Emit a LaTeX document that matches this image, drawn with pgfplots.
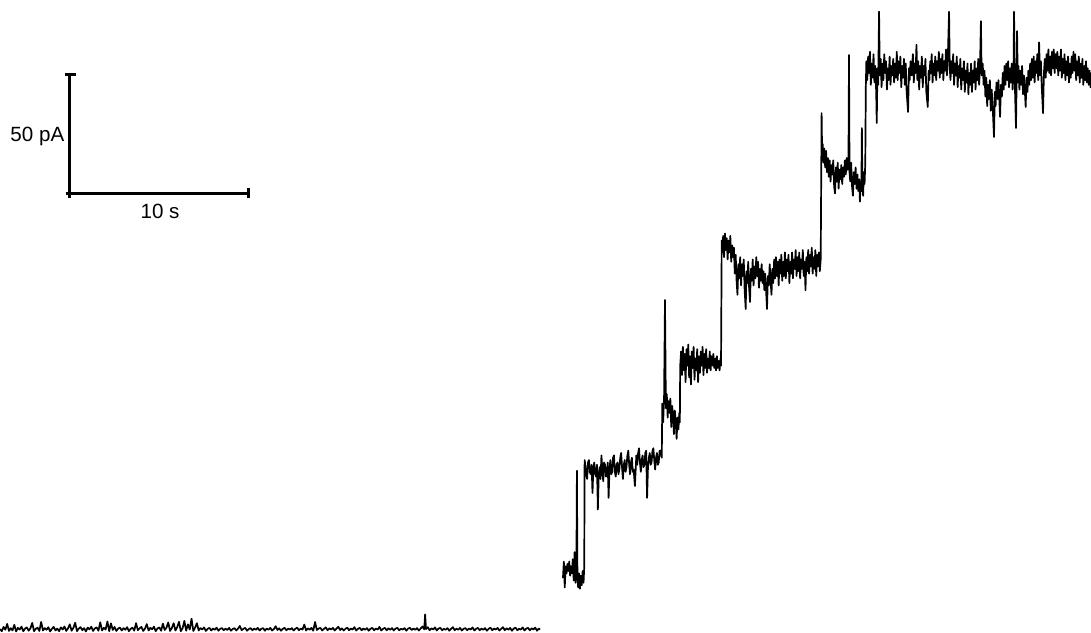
\documentclass[border=0pt]{standalone}
\usepackage{pgfplots}
\pgfplotsset{compat=1.18}
\usepackage{fontspec}
\setmainfont{Liberation Sans}
\begin{document}
\begin{tikzpicture}
\begin{axis}[
  width=545.5pt, height=316.5pt, scale only axis,
  xmin=0, xmax=60.95, ymin=-1.27, ymax=266.95,
  axis line style={draw=none}, ticks=none,
  clip=true,
]
% baseline (before application)
\addplot[black, line width=0.85pt, line join=round] coordinates {
(0,0.4)(0.1,-0.5)(0.2,1.3)(0.3,0.1)(0.4,2.6)(0.5,-0.4)(0.6,0.8)(0.7,-0.2)(0.8,2.2)(0.9,-0.6)(1.0,0.9)(1.1,0.2)(1.2,1.4)(1.3,-0.5)(1.4,0.6)(1.5,1.1)(1.6,-0.3)(1.7,0.7)(1.8,3.0)(1.9,-0.5)(2.0,0.5)(2.1,1.0)(2.2,-0.4)(2.3,3.4)(2.4,-0.2)(2.5,0.8)(2.6,0.1)(2.7,1.2)(2.8,-0.6)(2.9,0.5)(3.0,1.3)(3.1,-0.2)(3.2,0.6)(3.3,-0.5)(3.4,1.1)(3.5,0.2)(3.6,1.5)(3.7,-0.4)(3.8,0.7)(3.9,2.4)(4.0,-0.3)(4.1,0.9)(4.2,3.1)(4.3,-0.5)(4.4,0.6)(4.5,1.2)(4.6,-0.1)(4.7,0.8)(4.8,-0.6)(4.9,1.0)
(5.0,0.3)(5.1,1.4)(5.2,-0.4)(5.3,0.7)(5.4,1.1)(5.5,-0.3)(5.6,3.3)(5.7,-0.2)(5.8,0.9)(5.9,0.2)(6.0,3.6)(6.1,-0.5)(6.2,2.8)(6.3,0.0)(6.4,1.3)(6.5,-0.4)(6.6,0.6)(6.7,1.0)(6.8,-0.2)(6.9,0.8)(7.0,0.1)(7.1,1.2)(7.2,-0.5)(7.3,0.5)(7.4,1.0)(7.5,-0.3)(7.6,2.9)(7.7,-0.1)(7.8,0.7)(7.9,1.3)(8.0,-0.4)(8.1,0.6)(8.2,2.5)(8.3,-0.2)(8.4,0.9)(8.5,0.3)(8.6,1.4)(8.7,-0.5)(8.8,0.7)(8.9,1.1)(9.0,-0.3)(9.1,2.7)(9.2,0.0)(9.3,1.0)(9.4,3.2)(9.5,-0.4)(9.6,0.8)(9.7,2.9)(9.8,-0.2)(9.9,1.2)
(10.0,3.5)(10.1,-0.5)(10.2,0.7)(10.3,3.9)(10.4,-0.3)(10.5,2.4)(10.6,0.2)(10.7,4.8)(10.8,-0.4)(10.9,1.0)(11.0,2.9)(11.1,-0.2)(11.2,0.8)(11.3,0.2)(11.4,1.1)(11.5,-0.4)(11.6,0.5)(11.7,0.9)(11.8,-0.2)(11.9,0.6)(12.0,0.1)(12.1,1.0)(12.2,-0.3)(12.3,0.5)(12.4,0.8)(12.5,-0.1)(12.6,0.6)(12.7,0.0)(12.8,0.9)(12.9,-0.3)(13.0,0.4)(13.1,0.8)(13.2,-0.2)(13.3,0.6)(13.4,1.7)(13.5,-0.1)(13.6,0.5)(13.7,0.9)(13.8,-0.3)(13.9,0.4)(14.0,0.8)(14.1,-0.1)(14.2,0.6)(14.3,0.1)(14.4,0.9)(14.5,-0.2)(14.6,0.5)(14.7,0.8)(14.8,-0.3)(14.9,0.6)
(15.0,0.1)(15.1,0.9)(15.2,-0.2)(15.3,0.4)(15.4,1.6)(15.5,0.0)(15.6,0.7)(15.7,-0.3)(15.8,0.5)(15.9,0.9)(16.0,-0.1)(16.1,0.6)(16.2,0.2)(16.3,0.8)(16.4,-0.2)(16.5,0.5)(16.6,1.0)(16.7,-0.1)(16.8,0.6)(16.9,0.2)(17.0,2.3)(17.1,-0.2)(17.2,0.7)(17.3,0.1)(17.4,0.9)(17.5,-0.3)(17.6,3.4)(17.7,0.0)(17.8,0.6)(17.9,0.9)(18.0,-0.2)(18.1,0.5)(18.2,1.1)(18.3,-0.1)(18.4,0.7)(18.5,0.2)(18.6,0.9)(18.7,-0.2)(18.8,0.6)(18.9,1.4)(19.0,0.0)(19.1,0.7)(19.2,-0.2)(19.3,0.5)(19.4,1.0)(19.5,-0.1)(19.6,0.6)(19.7,0.2)(19.8,1.2)(19.9,-0.2)
(20.0,0.5)(20.1,0.9)(20.2,-0.1)(20.3,0.6)(20.4,0.1)(20.5,0.8)(20.6,-0.3)(20.7,0.5)(20.8,0.9)(20.9,-0.1)(21.0,0.6)(21.1,0.2)(21.2,1.3)(21.3,-0.2)(21.4,0.5)(21.5,0.9)(21.6,-0.1)(21.7,0.7)(21.8,0.1)(21.9,0.8)(22.0,-0.2)(22.1,0.6)(22.2,0.9)(22.3,-0.1)(22.4,0.5)(22.5,0.2)(22.6,0.8)(22.7,-0.3)(22.8,0.6)(22.9,0.9)(23.0,0.0)(23.1,0.6)(23.2,0.1)(23.3,0.8)(23.4,-0.2)(23.5,0.6)(23.6,1.5)(23.7,0.3)(23.75,6.6)(23.8,0.4)(23.9,1.2)
(24.0,-0.1)(24.1,0.7)(24.2,0.2)(24.3,1.1)(24.4,-0.2)(24.5,0.6)(24.6,0.9)(24.7,-0.1)(24.8,0.5)(24.9,0.1)(25.0,0.8)(25.1,-0.3)(25.2,0.5)(25.3,1.2)(25.4,-0.1)(25.5,0.6)(25.6,0.1)(25.7,0.9)(25.8,-0.2)(25.9,0.5)(26.0,0.8)(26.1,-0.1)(26.2,0.6)(26.3,0.2)(26.4,1.1)(26.5,-0.2)(26.6,0.5)(26.7,0.9)(26.8,-0.1)(26.9,0.6)(27.0,0.1)(27.1,0.8)(27.2,-0.3)(27.3,0.5)(27.4,1.0)(27.5,-0.1)(27.6,0.6)(27.7,0.2)(27.8,0.9)(27.9,-0.2)
(28.0,0.5)(28.1,1.2)(28.2,-0.1)(28.3,0.7)(28.4,0.1)(28.5,0.9)(28.6,-0.3)(28.7,0.6)(28.8,1.0)(28.9,-0.1)(29.0,0.5)(29.1,0.2)(29.2,1.1)(29.3,-0.2)(29.4,0.6)(29.5,0.9)(29.6,-0.1)(29.7,0.7)(29.8,0.2)(29.9,1.0)(30.0,-0.3)(30.1,0.6)(30.17,0.2)
};
% staircase (during application)
\addplot[black, line width=0.85pt, line join=round] coordinates {
(31.45,22)(31.5,29)(31.55,18)(31.6,27)(31.65,24)(31.7,28)(31.75,25)(31.8,29)(31.85,23)(31.9,27)(31.95,24)(32.0,30)(32.05,21)(32.1,33)(32.15,20)(32.2,25)(32.23,67.5)(32.26,22)(32.3,18)(32.35,24)(32.4,17.5)(32.45,23)(32.5,19)(32.55,25)(32.6,20)(32.64,27)
(32.66,72)(32.7,70)(32.75,66)(32.8,64)(32.85,71)(32.9,72)(32.95,67)(33.0,66)(33.05,70)(33.1,58)(33.15,69)(33.2,71)(33.25,66)(33.3,65)(33.35,70)(33.4,51)(33.45,66)(33.5,69)(33.55,64)(33.6,74)(33.65,68)(33.7,63)(33.75,71)(33.8,70)(33.85,65)(33.9,66)(33.95,71)(34.0,56)(34.05,68)(34.1,72)(34.15,66)(34.2,67)(34.25,73)(34.3,74)(34.35,67)(34.4,65)(34.45,70)(34.5,71)(34.55,66)(34.6,68)(34.65,73)(34.7,75)(34.75,69)(34.8,64)(34.85,70)(34.9,72)(34.95,67)
(35.0,69)(35.05,74)(35.1,76)(35.15,70)(35.2,66)(35.25,71)(35.3,73)(35.35,67)(35.4,68)(35.47,61)(35.55,74)(35.6,70)(35.65,75)(35.7,77)(35.75,71)(35.8,67)(35.85,72)(35.9,74)(35.95,69)(36.0,70)(36.05,75)(36.1,76)(36.15,56)(36.2,69)(36.25,73)(36.3,75)(36.35,70)(36.4,71)(36.45,76)(36.5,77)(36.55,72)(36.6,68)(36.65,73)(36.7,75)(36.75,70)(36.8,71)(36.85,76)(36.9,76)(36.97,73)
(37.0,96)(37.05,88)(37.1,99)(37.15,139.8)(37.2,94)(37.25,100)(37.3,90)(37.35,97)(37.4,92)(37.45,98)(37.5,86)(37.55,95)(37.6,91)(37.65,83)(37.7,93)(37.75,88)(37.8,81)(37.85,90)(37.9,85)(37.95,92)(37.98,88)
(38.0,112)(38.05,118)(38.1,108)(38.15,120)(38.2,110)(38.25,117)(38.3,105)(38.35,119)(38.4,112)(38.45,121)(38.5,107)(38.55,116)(38.6,104)(38.65,118)(38.7,111)(38.75,120)(38.8,106)(38.85,115)(38.9,110)(38.95,119)(39.0,105)(39.05,116)(39.1,109)(39.15,118)(39.2,112)(39.25,120)(39.3,108)(39.35,117)(39.4,111)(39.45,119)(39.5,109)(39.55,115)(39.6,111)(39.65,118)(39.7,110)(39.75,116)(39.8,112)(39.85,117)(39.9,111)(39.95,115)(40.0,110)(40.05,116)(40.1,111)(40.15,114)(40.2,110)(40.25,115)(40.28,112)
(40.32,165)(40.35,160)(40.4,167)(40.45,158)(40.5,168)(40.55,161)(40.6,166)(40.65,157)(40.7,165)(40.75,160)(40.8,167)(40.85,156)(40.9,163)(40.95,158)(41.0,162)(41.05,151)(41.1,159)(41.15,148)(41.2,142)(41.25,155)(41.3,149)(41.35,158)(41.4,146)(41.45,155)(41.5,150)(41.55,157)(41.6,144)(41.66,136)(41.7,152)(41.75,147)(41.8,156)(41.85,145)(41.9,139)(41.95,153)(42.0,148)(42.05,157)(42.1,146)(42.15,154)(42.2,149)(42.25,158)(42.3,150)(42.35,156)(42.4,145)(42.45,153)(42.5,148)(42.55,155)(42.6,147)(42.65,152)(42.7,144)(42.75,151)(42.85,136)(42.9,150)(42.95,146)
(43.0,155)(43.05,148)(43.1,142)(43.15,153)(43.2,147)(43.25,157)(43.3,149)(43.35,158)(43.4,150)(43.45,156)(43.5,146)(43.55,157)(43.6,151)(43.65,159)(43.7,148)(43.75,156)(43.8,150)(43.85,160)(43.9,149)(43.95,157)(44.0,152)(44.05,159)(44.1,147)(44.15,156)(44.2,151)(44.25,160)(44.3,149)(44.35,157)(44.4,153)(44.45,161)(44.5,150)(44.55,158)(44.6,152)(44.65,160)(44.7,149)(44.75,157)(44.8,153)(44.85,161)(44.9,150)(44.95,156)(45.0,144)(45.05,158)(45.1,152)(45.15,161)(45.2,151)(45.25,159)(45.3,154)(45.35,162)(45.4,151)(45.45,158)(45.5,153)(45.55,161)(45.6,150)(45.65,159)(45.7,154)(45.75,160)(45.8,152)(45.85,157)
(45.9,219)(45.93,201)(45.96,206)(46.0,198)(46.05,204)(46.1,196)(46.15,203)(46.2,194)(46.25,200)(46.3,192)(46.35,199)(46.4,190)(46.45,197)(46.5,193)(46.55,199)(46.6,188)(46.65,185)(46.7,196)(46.75,190)(46.8,198)(46.85,187)(46.9,195)(46.95,191)(47.0,197)(47.05,189)(47.1,196)(47.15,192)(47.2,199)(47.25,193)(47.3,200)(47.35,195)(47.4,198)(47.43,243.6)(47.46,194)(47.5,190)(47.55,198)(47.6,188)(47.65,184)(47.7,194)(47.75,189)(47.8,196)(47.85,187)(47.9,193)(47.95,186)(48.0,191)(48.04,181.5)(48.08,190)(48.12,186)(48.15,212.7)(48.18,188)(48.22,184)(48.26,194)(48.3,189)(48.34,198)
(48.37,230)(48.4,241)(48.45,233)(48.5,243)(48.55,236)(48.6,245)(48.65,231)(48.7,240)(48.75,234)(48.8,244)(48.85,232)(48.9,239)(48.95,228)(48.98,214.8)(49.02,238)(49.06,231)(49.11,262)(49.15,235)(49.2,242)(49.25,230)(49.3,240)(49.35,233)(49.4,244)(49.45,236)(49.5,241)(49.55,229)(49.6,238)(49.65,233)(49.7,243)(49.75,231)(49.8,239)(49.85,235)(49.9,242)(49.95,232)
(50.0,240)(50.05,234)(50.1,245)(50.15,233)(50.2,241)(50.25,236)(50.3,243)(50.35,230)(50.4,239)(50.45,234)(50.5,242)(50.55,231)(50.6,240)(50.65,228)(50.73,219.5)(50.78,238)(50.82,233)(50.87,241)(50.92,235)(51.0,244)(51.05,232)(51.1,240)(51.15,236)(51.2,248)(51.25,233)(51.3,241)(51.35,229)(51.4,239)(51.45,234)(51.5,243)(51.55,230)(51.6,239)(51.65,235)(51.7,242)(51.75,228)(51.83,221.6)(51.88,237)(51.92,233)(51.97,241)
(52.0,236)(52.05,244)(52.1,232)(52.15,240)(52.2,235)(52.25,243)(52.3,233)(52.35,241)(52.4,237)(52.45,245)(52.5,234)(52.55,242)(52.6,236)(52.65,244)(52.7,233)(52.75,241)(52.8,237)(52.85,246)(52.9,235)(52.95,242)(53.02,262)(53.06,238)(53.1,233)(53.15,241)(53.2,236)(53.25,244)(53.3,231)(53.35,240)(53.4,235)(53.45,243)(53.5,230)(53.55,239)(53.6,234)(53.65,242)(53.7,229)(53.75,238)(53.8,233)(53.85,241)(53.9,228)(53.95,237)
(54.0,232)(54.05,240)(54.1,227)(54.15,236)(54.2,231)(54.25,240)(54.3,228)(54.35,237)(54.4,232)(54.45,241)(54.5,229)(54.55,238)(54.6,233)(54.65,242)(54.7,231)(54.75,239)(54.8,258)(54.84,235)(54.9,240)(54.95,231)(55.0,237)(55.05,226)(55.1,234)(55.15,222)(55.2,231)(55.25,225)(55.3,233)(55.35,220)(55.4,229)(55.45,223)(55.53,208.9)(55.58,228)(55.62,222)(55.67,232)(55.72,225)(55.78,233)(55.87,217.4)(55.92,231)(55.97,226)
(56.02,236)(56.07,229)(56.12,239)(56.17,231)(56.22,240)(56.27,233)(56.32,241)(56.37,230)(56.42,238)(56.47,232)(56.52,240)(56.57,229)(56.62,236)(56.65,262)(56.7,230)(56.76,212.7)(56.8,236)(56.82,253.8)(56.86,232)(56.9,239)(56.95,229)(57.0,237)(57.05,231)(57.1,239)(57.15,227)(57.2,235)(57.25,229)(57.3,221.6)(57.35,234)(57.4,228)(57.45,237)(57.5,231)(57.55,240)(57.6,233)(57.65,242)(57.7,234)(57.75,243)(57.8,232)(57.85,241)(57.9,236)(57.95,244)
(58.0,233)(58.05,249)(58.1,235)(58.15,241)(58.2,230)(58.27,219)(58.32,236)(58.37,242)(58.42,234)(58.47,244)(58.52,237)(58.57,246)(58.62,236)(58.67,243)(58.72,235)(58.77,245)(58.82,238)(58.87,246)(58.92,236)(58.97,244)(59.02,238)(59.07,245)(59.12,235)(59.17,243)(59.22,237)(59.27,246)(59.32,234)(59.37,242)(59.42,236)(59.47,244)(59.52,233)(59.57,241)(59.62,235)(59.67,243)(59.72,232)(59.77,240)(59.82,234)(59.87,243)(59.92,236)(59.97,245)
(60.02,237)(60.07,244)(60.12,233)(60.17,241)(60.22,235)(60.27,243)(60.32,232)(60.37,240)(60.42,234)(60.47,242)(60.52,231)(60.57,239)(60.62,233)(60.67,241)(60.72,232)(60.77,238)(60.82,231)(60.87,237)(60.92,230)(60.97,236)
};
% scale bar: 50 pA, 10 s
\addplot[black, line width=1.5pt] coordinates {(3.91,235.2)(3.91,185.0)(13.87,185.0)};
\addplot[black, line width=1.5pt] coordinates {(3.63,235.2)(4.25,235.2)};
\addplot[black, line width=1.5pt] coordinates {(3.67,185.0)(3.91,185.0)(3.91,182.9)};
\addplot[black, line width=1.5pt] coordinates {(13.87,187.4)(13.87,182.9)};
\node[anchor=base, font=\fontsize{10.3}{12}\selectfont] at (axis cs:2.09,206.9) {50 pA};
\node[anchor=base, font=\fontsize{10.3}{12}\selectfont] at (axis cs:8.94,174.4) {10 s};
\end{axis}
\end{tikzpicture}
\end{document}
